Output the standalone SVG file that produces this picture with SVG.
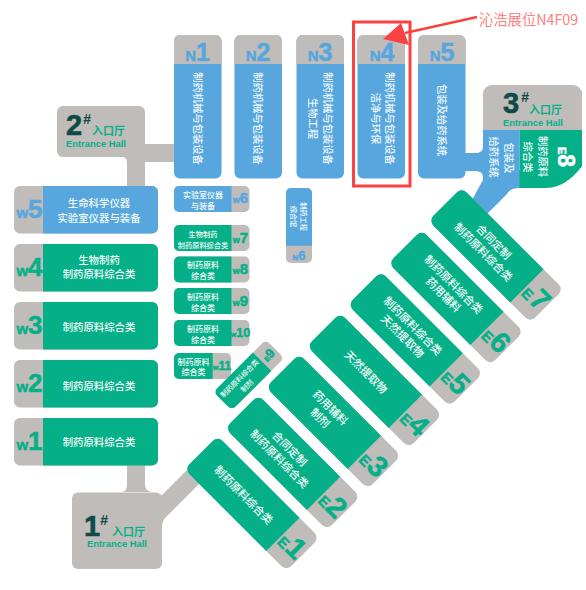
<svg xmlns="http://www.w3.org/2000/svg" xmlns:xlink="http://www.w3.org/1999/xlink" width="586" height="590" viewBox="0 0 586 590">
<style>
text{font-family:"Noto Sans CJK SC","Noto Sans",sans-serif;text-anchor:middle}
.g{fill:#bfbcba}.gr{fill:#05b088}.bl{fill:#57a6de}
.t{fill:#f2fbf8;font-size:11px;font-weight:500}
.tw{fill:#f2fbf8;font-size:10.400px;font-weight:500}
.s{fill:#f2fbf8;font-size:8px;font-weight:500}
.xs{fill:#f2fbf8;font-size:7.200px;font-weight:500}
.v{fill:#eef6fc;font-size:10.300px;font-weight:500}
.lab{font-family:"Liberation Sans",Arial,sans-serif;font-weight:700;stroke-width:.5px}
.lg{fill:#05b088;stroke:#05b088}.lb{fill:#57a6de;stroke:#57a6de}
.dig{fill:#0f4a46;font-family:"Liberation Sans",Arial,sans-serif;font-weight:700;font-size:29px;text-anchor:start;stroke:#0f4a46;stroke-width:.6px}
.hash{fill:#0f4a46;font-family:"Liberation Sans",Arial,sans-serif;font-weight:700;font-style:italic;font-size:14px;text-anchor:start}
.ent{fill:#05b088;font-size:11px;font-weight:700;text-anchor:start}
.eh{fill:#05b088;font-family:"Liberation Sans",Arial,sans-serif;font-weight:700;font-size:9.400px;text-anchor:start}
</style>
<defs>
<g id="nbox"><rect class="bl" width="47.500" height="143.500" rx="6"/><path class="g" d="M0 29V6a6 6 0 0 1 6-6H41.500a6 6 0 0 1 6 6V29z"/></g>
<g id="wbox"><rect class="g" width="144" height="47.500" rx="6"/><path d="M29 0H138a6 6 0 0 1 6 6V41.500a6 6 0 0 1-6 6H29z"/></g>
<g id="sbox"><rect class="g" width="75.500" height="26" rx="5"/><path d="M57.500 0V26H5a5 5 0 0 1-5-5V5a5 5 0 0 1 5-5z"/></g>
<g id="ebox"><rect class="g" x="-72" y="-23.500" width="144" height="47" rx="7"/><path class="gr" d="M43.700-23.500V23.500H-65a7 7 0 0 1-7-7V-16.500a7 7 0 0 1 7-7z"/></g>
</defs>

<g id="connectors">
<path class="g" d="M130 144H174V162H145V186H127V162Q127 157 122 157V144z"/>
<path class="g" d="M127 460H145V484Q145 492 153 492H122Q127 492 127 484z"/>
<path class="g" d="M160 497L187 470L200 483L166 517Q162 521 162 527V497z"/>
<path class="bl" d="M460 153H475Q483 153 483 147V177Q483 171 475 171H460z"/>
<path class="bl" d="M484 178L472 200L487 214L507 194Q510 188 520 188V170H484z"/>
</g>

<g id="hall-2"><rect class="g" x="57" y="106" width="88" height="51" rx="6"/>
<text class="dig" x="66" y="135">2</text><text class="hash" x="83" y="124">#</text><text class="ent" x="92" y="134.500">入口厅</text><text class="eh" x="66" y="147">Entrance Hall</text></g>
<g id="hall-1"><rect class="g" x="72" y="492.500" width="90" height="76.500" rx="6"/>
<text class="dig" x="84" y="536">1</text><text class="hash" x="100" y="525">#</text><text class="ent" x="112" y="535.500">入口厅</text><text class="eh" x="87" y="547">Entrance Hall</text></g>
<g id="hall-3"><path class="g" d="M483 130V94a9 9 0 0 1 9-9H573a9 9 0 0 1 9 9V130z"/>
<text class="dig" x="503" y="113">3</text><text class="hash" x="521" y="102">#</text><text class="ent" x="529" y="113.500">入口厅</text><text class="eh" x="503" y="125.500">Entrance Hall</text></g>

<g id="n1"><use xlink:href="#nbox" x="174" y="35"/><text class="lab lb" x="197.500" y="61"><tspan font-size="15">N</tspan><tspan font-size="25">1</tspan></text><text class="v" transform="translate(197.500 118.500) rotate(90)" y="3.600">制药机械与包装设备</text></g>
<g id="n2"><use xlink:href="#nbox" x="234.500" y="35"/><text class="lab lb" x="258" y="61"><tspan font-size="15">N</tspan><tspan font-size="25">2</tspan></text><text class="v" transform="translate(258 118.500) rotate(90)" y="3.600">制药机械与包装设备</text></g>
<g id="n3"><use xlink:href="#nbox" x="296.500" y="35"/><text class="lab lb" x="320" y="61"><tspan font-size="15">N</tspan><tspan font-size="25">3</tspan></text><text class="v" transform="translate(328 118.500) rotate(90)" y="3.600">制药机械与包装设备</text><text class="v" transform="translate(313 118.500) rotate(90)" y="3.600">生物工程</text></g>
<g id="n4"><use xlink:href="#nbox" x="357.500" y="35"/><text class="lab lb" x="382" y="61"><tspan font-size="15">N</tspan><tspan font-size="25">4</tspan></text><text class="v" transform="translate(390 118.500) rotate(90)" y="3.600">制药机械与包装设备</text><text class="v" transform="translate(376 118.500) rotate(90)" y="3.600">洁净与环保</text></g>
<g id="n5"><use xlink:href="#nbox" x="418" y="35"/><text class="lab lb" x="442" y="61"><tspan font-size="15">N</tspan><tspan font-size="25">5</tspan></text><text class="v" transform="translate(442 120) rotate(90)" y="3.600">包装及给药系统</text></g>

<g id="e8"><path class="bl" d="M483 130H519.500V188H483z"/><path class="gr" d="M519.500 130H582V166Q566 188 545 188H519.500z"/>
<text class="v" transform="translate(509 158) rotate(90)" y="3.600">包装及</text><text class="v" transform="translate(494 157) rotate(90)" y="3.600">给药系统</text>
<text class="v" transform="translate(543 156.500) rotate(90)" y="3.600">制药原料</text><text class="v" transform="translate(528 157) rotate(90)" y="3.600">综合类</text>
<text class="lab" fill="#fff" stroke="#fff" transform="translate(558 157) rotate(90)"><tspan font-size="11">E</tspan><tspan font-size="23">8</tspan></text></g>

<g id="w5"><use xlink:href="#wbox" x="14" y="186" fill="#57a6de"/><text class="lab lb" x="29.500" y="217.500"><tspan font-size="15">w</tspan><tspan font-size="26">5</tspan></text><text class="tw" x="99" y="207">生命科学仪器</text><text class="tw" x="99" y="221.700">实验室仪器与装备</text></g>
<g id="w4"><use xlink:href="#wbox" x="14" y="244" fill="#05b088"/><text class="lab lg" x="29.500" y="275.500"><tspan font-size="15">w</tspan><tspan font-size="26">4</tspan></text><text class="tw" x="99" y="264">生物制药</text><text class="tw" x="99" y="278">制药原料综合类</text></g>
<g id="w3"><use xlink:href="#wbox" x="14" y="302" fill="#05b088"/><text class="lab lg" x="29.500" y="333.500"><tspan font-size="15">w</tspan><tspan font-size="26">3</tspan></text><text class="tw" x="99" y="331">制药原料综合类</text></g>
<g id="w2"><use xlink:href="#wbox" x="14" y="360" fill="#05b088"/><text class="lab lg" x="29.500" y="391.500"><tspan font-size="15">w</tspan><tspan font-size="26">2</tspan></text><text class="tw" x="99" y="390">制药原料综合类</text></g>
<g id="w1"><use xlink:href="#wbox" x="14" y="418" fill="#05b088"/><text class="lab lg" x="29.500" y="449.500"><tspan font-size="15">w</tspan><tspan font-size="26">1</tspan></text><text class="tw" x="99" y="445.700">制药原料综合类</text></g>

<g id="w6"><use xlink:href="#sbox" x="174" y="186" fill="#57a6de"/><text class="lab lb" x="240.500" y="203"><tspan font-size="9">w</tspan><tspan font-size="15">6</tspan></text><text class="s" x="203" y="198">实验室仪器</text><text class="s" x="203" y="208.500">与装备</text></g>
<g id="w7"><use xlink:href="#sbox" x="174" y="225" fill="#05b088"/><text class="lab lg" x="240.500" y="243"><tspan font-size="9">w</tspan><tspan font-size="15">7</tspan></text><text class="xs" x="203" y="237">生物制药</text><text class="xs" x="203" y="247.500">制药原料综合类</text></g>
<g id="w8"><use xlink:href="#sbox" x="174" y="256.500" fill="#05b088"/><text class="lab lg" x="240.500" y="274"><tspan font-size="9">w</tspan><tspan font-size="15">8</tspan></text><text class="s" x="203" y="268">制药原料</text><text class="s" x="203" y="278.500">综合类</text></g>
<g id="w9"><use xlink:href="#sbox" x="174" y="288" fill="#05b088"/><text class="lab lg" x="240.500" y="305.500"><tspan font-size="9">w</tspan><tspan font-size="15">9</tspan></text><text class="s" x="203" y="300">制药原料</text><text class="s" x="203" y="310.500">综合类</text></g>
<g id="w10"><use xlink:href="#sbox" x="174" y="320" fill="#05b088"/><text class="lab lg" x="240.500" y="337"><tspan font-size="7">w</tspan><tspan font-size="12.500">10</tspan></text><text class="s" x="203" y="332">制药原料</text><text class="s" x="203" y="342.500">综合类</text></g>
<g id="w11"><rect class="g" x="174" y="353" width="57" height="26" rx="5"/><path class="gr" d="M212.700 353V379H179a5 5 0 0 1-5-5V358a5 5 0 0 1 5-5z"/><text class="lab lg" x="222" y="370"><tspan font-size="7">w</tspan><tspan font-size="12">11</tspan></text><text class="s" x="193.500" y="364.500">制药原料</text><text class="s" x="193.500" y="375">综合类</text></g>

<g id="n6"><rect class="g" x="286" y="188" width="26" height="75" rx="5"/><path class="bl" d="M286 245.700V193a5 5 0 0 1 5-5H307a5 5 0 0 1 5 5V245.700z"/><text class="xs" transform="translate(304 216.500) rotate(90)" y="3">制药工程</text><text class="xs" transform="translate(293.500 216.500) rotate(90)" y="3">综合馆</text><text class="lab lb" x="299" y="260"><tspan font-size="8">N</tspan><tspan font-size="13">6</tspan></text></g>

<g id="e9" transform="translate(248.800 375) rotate(-45)"><rect class="g" x="-37" y="-13" width="74" height="26" rx="5"/><path class="gr" d="M18.800-13V13H-32a5 5 0 0 1-5-5V-8a5 5 0 0 1 5-5z"/><text class="xs" x="-9" y="-1.500">制药原料综合类</text><text class="xs" x="-9" y="9">制剂</text><text class="lab lg" x="28" y="4"><tspan font-size="7">E</tspan><tspan font-size="13">9</tspan></text></g>

<g id="e1" transform="translate(252 503.500) rotate(45)"><use xlink:href="#ebox"/><text class="t" x="-12" y="4">制药原料综合类</text><text class="lab lg" x="58" y="10.500"><tspan font-size="15">E</tspan><tspan font-size="29">1</tspan></text></g>
<g id="e2" transform="translate(292.700 462.500) rotate(45)"><use xlink:href="#ebox"/><text class="t" x="-12" y="-3.500">合同定制</text><text class="t" x="-12" y="11">制药原料综合类</text><text class="lab lg" x="58" y="10.500"><tspan font-size="15">E</tspan><tspan font-size="29">2</tspan></text></g>
<g id="e3" transform="translate(333.500 421.500) rotate(45)"><use xlink:href="#ebox"/><text class="t" x="-12" y="-3.500">药用辅料</text><text class="t" x="-12" y="11">制剂</text><text class="lab lg" x="58" y="10.500"><tspan font-size="15">E</tspan><tspan font-size="29">3</tspan></text></g>
<g id="e4" transform="translate(374.500 380.500) rotate(45)"><use xlink:href="#ebox"/><text class="t" x="-12" y="4">天然提取物</text><text class="lab lg" x="58" y="10.500"><tspan font-size="15">E</tspan><tspan font-size="29">4</tspan></text></g>
<g id="e5" transform="translate(415.300 339) rotate(45)"><use xlink:href="#ebox"/><text class="t" x="-11" y="-3.500">制药原料综合类</text><text class="t" x="-11" y="11">天然提取物</text><text class="lab lg" x="58" y="10.500"><tspan font-size="15">E</tspan><tspan font-size="29">5</tspan></text></g>
<g id="e6" transform="translate(456 297.500) rotate(45)"><use xlink:href="#ebox"/><text class="t" x="-11" y="-3.500">制药原料综合类</text><text class="t" x="-11" y="11">药用辅料</text><text class="lab lg" x="58" y="10.500"><tspan font-size="15">E</tspan><tspan font-size="29">6</tspan></text></g>
<g id="e7" transform="translate(496 255) rotate(45)"><use xlink:href="#ebox"/><text class="t" x="-11" y="-3.500">合同定制</text><text class="t" x="-11" y="11">制药原料综合类</text><text class="lab lg" x="58" y="10.500"><tspan font-size="15">E</tspan><tspan font-size="29">7</tspan></text></g>

<g id="callout">
<rect x="353.500" y="22" width="56.500" height="164" fill="none" stroke="#fb4141" stroke-width="3"/>
<path d="M477 17L405 33" stroke="#fb4141" stroke-width="2.500" fill="none"/>
<path d="M383 39L401 23L409 45z" fill="#fb4141"/>
<text x="479" y="25" font-size="14.300" fill="#ff8080" style="text-anchor:start">沁浩展位N4F09</text>
</g>
</svg>
